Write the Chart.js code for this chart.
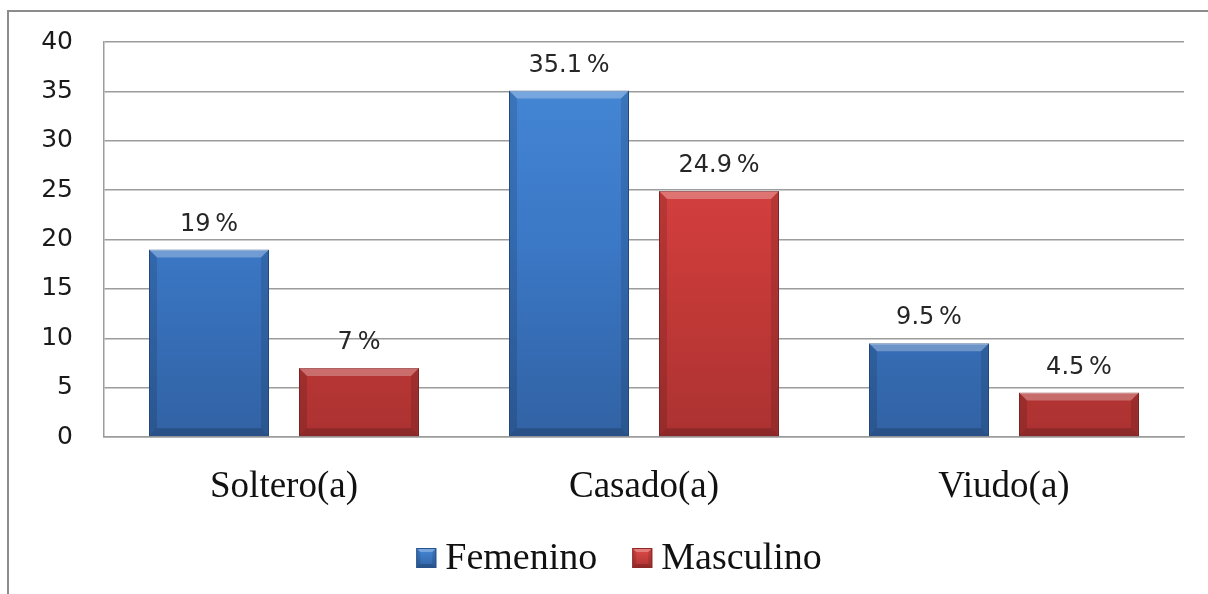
<!DOCTYPE html>
<html>
<head>
<meta charset="utf-8">
<script src="https://cdn.jsdelivr.net/npm/chart.js@4.4.0/dist/chart.umd.min.js"></script>
<style>
  html, body { margin: 0; padding: 0; background: #fff; overflow: hidden; }
  #frame { position: absolute; left: 7px; top: 10px; width: 1400px; height: 800px; border: 2px solid #8c8c8c; }
  #wrap { position: absolute; left: 0; top: 0; width: 1208px; height: 594px; }
</style>
</head>
<body>
<div id="frame"></div>
<div id="wrap"><canvas id="myChart" width="1208" height="594"></canvas></div>
<script>
// chart values
const categories = ['Soltero(a)', 'Casado(a)', 'Viudo(a)'];
const femenino = [19, 35.1, 9.5];
const masculino = [7, 24.9, 4.5];
const seriesNames = ['Femenino', 'Masculino'];
const yTicks = [0, 5, 10, 15, 20, 25, 30, 35, 40];

const palette = [
    { top: '#4689d8', mid: '#3b78c6', bottom: '#3162a4', edge: '#28528c' },
    { top: '#e04c49', mid: '#cc3c3a', bottom: '#ab3231', edge: '#8e2828' }
];

const serif = '"Liberation Serif", "Times New Roman", serif';
const sans = '"DejaVu Sans", Verdana, sans-serif';

// vertical gradient over the chart area
const barFill = (c) => (context) => {
    const area = context.chart.chartArea;
    if (!area) return c.mid;
    const g = context.chart.ctx.createLinearGradient(0, area.top, 0, area.bottom);
    g.addColorStop(0, c.top);
    g.addColorStop(0.5, c.mid);
    g.addColorStop(1, c.bottom);
    return g;
};

// draw a small bevel on a rectangle
const bevel = (ctx, left, top, right, bottom, b) => {
    ctx.fillStyle = 'rgba(255,255,255,0.28)';
    ctx.beginPath();
    ctx.moveTo(left, top); ctx.lineTo(right, top);
    ctx.lineTo(right - b, top + b); ctx.lineTo(left + b, top + b);
    ctx.closePath(); ctx.fill();
    ctx.fillStyle = 'rgba(0,0,0,0.12)';
    ctx.beginPath();
    ctx.moveTo(right, top); ctx.lineTo(right, bottom);
    ctx.lineTo(right - b, bottom - b); ctx.lineTo(right - b, top + b);
    ctx.closePath(); ctx.fill();
    ctx.beginPath();
    ctx.moveTo(left, top); ctx.lineTo(left, bottom);
    ctx.lineTo(left + b, bottom - b); ctx.lineTo(left + b, top + b);
    ctx.closePath(); ctx.fill();
    ctx.fillStyle = 'rgba(0,0,0,0.18)';
    ctx.beginPath();
    ctx.moveTo(left, bottom); ctx.lineTo(right, bottom);
    ctx.lineTo(right - b, bottom - b); ctx.lineTo(left + b, bottom - b);
    ctx.closePath(); ctx.fill();
};

// bevel on each bar + value labels
const bevelAndLabels = {
    id: 'bevelAndLabels',
    afterDatasetsDraw(chart) {
        const ctx = chart.ctx;
        chart.data.datasets.forEach((ds, i) => {
            const meta = chart.getDatasetMeta(i);
            meta.data.forEach((bar, j) => {
                const left = bar.x - bar.width / 2;
                const right = bar.x + bar.width / 2;
                ctx.save();
                bevel(ctx, left, bar.y, right, bar.base, Math.min(8, (bar.base - bar.y) / 3));
                ctx.fillStyle = '#262626';
                ctx.font = '24px ' + sans;
                ctx.textAlign = 'center';
                ctx.textBaseline = 'middle';
                ctx.fillText(ds.data[j] + '\u2009%', bar.x, bar.y - 25);
                ctx.restore();
            });
        });
    }
};

// legend drawn below the axis labels
const bottomLegend = {
    id: 'bottomLegend',
    afterDraw(chart) {
        const ctx = chart.ctx;
        const box = 20, gapText = 9, gapItem = 35, cy = 558;
        ctx.save();
        ctx.font = '38px ' + serif;
        const widths = seriesNames.map(n => ctx.measureText(n).width);
        const total = widths.reduce((a, w) => a + box + gapText + w, 0) + gapItem * (seriesNames.length - 1);
        let x = (chart.width - total) / 2 + 15;
        seriesNames.forEach((name, i) => {
            const c = palette[i];
            const g = ctx.createLinearGradient(0, cy - box / 2, 0, cy + box / 2);
            g.addColorStop(0, c.top);
            g.addColorStop(1, c.bottom);
            ctx.fillStyle = g;
            ctx.fillRect(x, cy - box / 2, box, box);
            bevel(ctx, x, cy - box / 2, x + box, cy + box / 2, 4);
            ctx.strokeStyle = c.edge;
            ctx.lineWidth = 1;
            ctx.strokeRect(x + 0.5, cy - box / 2 + 0.5, box - 1, box - 1);
            ctx.fillStyle = '#111';
            ctx.textAlign = 'left';
            ctx.textBaseline = 'middle';
            ctx.fillText(name, x + box + gapText, cy + 1);
            x += box + gapText + widths[i] + gapItem;
        });
        ctx.restore();
    }
};

const renderChart = () => {
    const canvas = document.getElementById('myChart');
    if (!canvas) {
        console.error('Canvas element not found');
        return;
    }
    const ctx = canvas.getContext('2d');

    window.myChart = new Chart(ctx, {
        type: 'bar',
        data: {
            labels: categories,
            datasets: seriesNames.map((name, i) => ({
                label: name,
                data: i === 0 ? femenino : masculino,
                backgroundColor: barFill(palette[i]),
                borderColor: palette[i].edge,
                borderWidth: 1,
                categoryPercentage: 0.8333,
                barPercentage: 0.8
            }))
        },
        options: {
            responsive: false,
            animation: false,
            layout: { padding: { top: 42, right: 24, left: 0, bottom: 62 } },
            scales: {
                x: {
                    grid: { display: false, drawTicks: false },
                    border: { color: '#9c9c9c', width: 1.5 },
                    ticks: {
                        color: '#111',
                        padding: 28,
                        font: { family: serif, size: 37 }
                    },
                    afterFit(scale) { scale.height = 95; }
                },
                y: {
                    min: 0,
                    max: 40,
                    afterBuildTicks(scale) { scale.ticks = yTicks.map(v => ({ value: v })); },
                    grid: { color: '#9c9c9c', lineWidth: 1.5, drawTicks: false },
                    border: { color: '#9c9c9c', width: 1.5 },
                    ticks: {
                        color: '#1a1a1a',
                        padding: 31,
                        font: { family: sans, size: 25 }
                    },
                    afterFit(scale) {
                        scale.width = 104;
                        scale.paddingTop = 0;
                        scale.paddingBottom = 0;
                    }
                }
            },
            plugins: {
                legend: { display: false },
                tooltip: { enabled: false }
            }
        },
        plugins: [bevelAndLabels, bottomLegend]
    });
};

document.addEventListener('DOMContentLoaded', renderChart);
</script>
</body>
</html>
